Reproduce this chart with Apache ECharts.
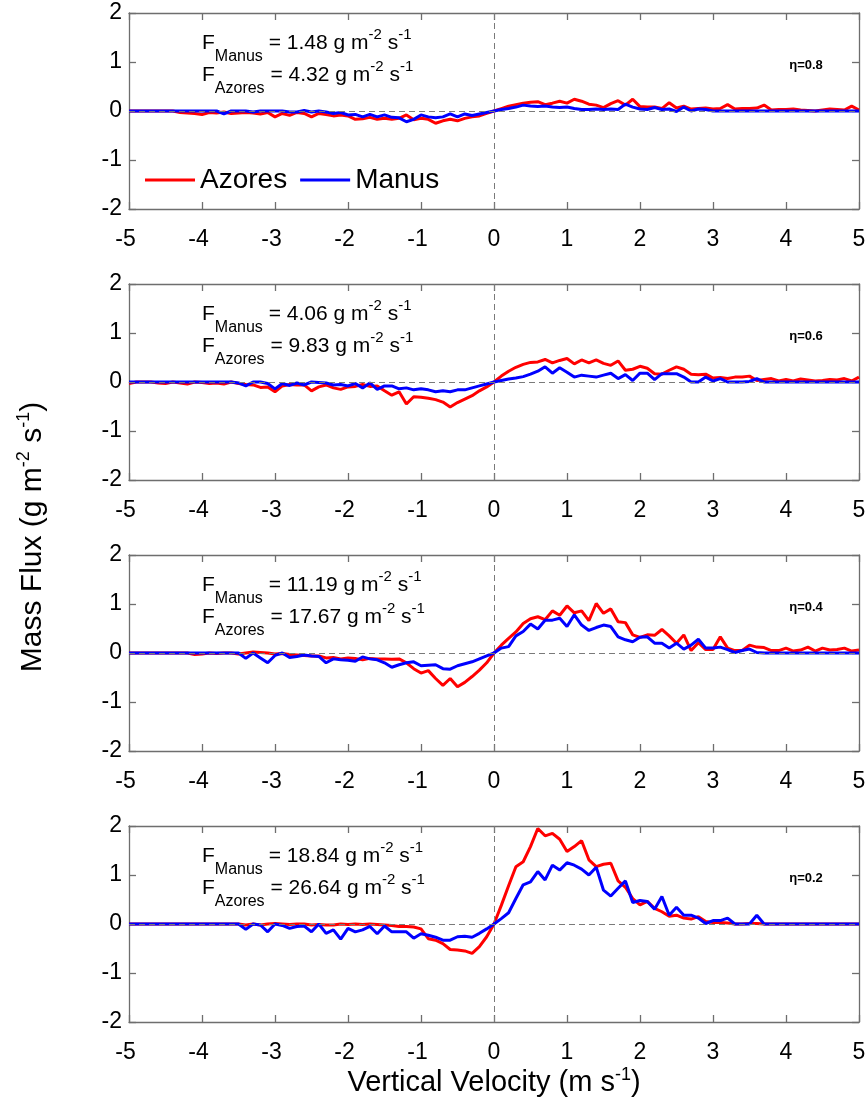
<!DOCTYPE html>
<html>
<head>
<meta charset="utf-8">
<script src="https://cdn.jsdelivr.net/npm/echarts@6/dist/echarts.min.js"></script>
<style>
html,body{margin:0;padding:0;background:#fff;}
#chart{width:868px;height:1107px;}
</style>
</head>
<body>
<div id="chart"></div>
<script>
// ---------------- DATA ----------------
const VELOCITY = [
  -5.0,-4.9,-4.8,-4.7,-4.6,-4.5,-4.4,-4.3,-4.2,-4.1,
  -4.0,-3.9,-3.8,-3.7,-3.6,-3.5,-3.4,-3.3,-3.2,-3.1,
  -3.0,-2.9,-2.8,-2.7,-2.6,-2.5,-2.4,-2.3,-2.2,-2.1,
  -2.0,-1.9,-1.8,-1.7,-1.6,-1.5,-1.4,-1.3,-1.2,-1.1,
  -1.0,-0.9,-0.8,-0.7,-0.6,-0.5,-0.4,-0.3,-0.2,-0.1,
   0.0, 0.1, 0.2, 0.3, 0.4, 0.5, 0.6, 0.7, 0.8, 0.9,
   1.0, 1.1, 1.2, 1.3, 1.4, 1.5, 1.6, 1.7, 1.8, 1.9,
   2.0, 2.1, 2.2, 2.3, 2.4, 2.5, 2.6, 2.7, 2.8, 2.9,
   3.0, 3.1, 3.2, 3.3, 3.4, 3.5, 3.6, 3.7, 3.8, 3.9,
   4.0, 4.1, 4.2, 4.3, 4.4, 4.5, 4.6, 4.7, 4.8, 4.9,
   5.0
];

// eta = 0.8
const AZORES_08 = [
  0, 0, 0, 0, 0, 0, 0, -0.03, -0.04, -0.05,
  -0.07, -0.03, -0.04, -0.02, -0.05, -0.04, -0.03, -0.04, -0.06, -0.03,
  -0.12, -0.05, -0.09, -0.03, -0.05, -0.12, -0.05, -0.07, -0.1, -0.08,
  -0.1, -0.17, -0.16, -0.13, -0.17, -0.15, -0.17, -0.15, -0.08, -0.18,
  -0.15, -0.17, -0.25, -0.2, -0.17, -0.2, -0.15, -0.12, -0.1, -0.05,
  0, 0.05, 0.1, 0.13, 0.16, 0.18, 0.19, 0.13, 0.16, 0.2,
  0.16, 0.24, 0.2, 0.14, 0.12, 0.07, 0.15, 0.21, 0.12, 0.24,
  0.09, 0.08, 0.08, 0.05, 0.17, 0.06, 0.1, 0.04, 0.05, 0.06,
  0.04, 0.05, 0.13, 0.04, 0.05, 0.05, 0.06, 0.12, 0.02, 0.03,
  0.03, 0.04, 0.02, 0.01, 0, 0.02, 0.04, 0.03, 0.02, 0.1,
  0.02
];
const MANUS_08 = [
  0, 0, 0, 0, 0, 0, 0, 0, 0, 0,
  0, 0, 0, -0.06, 0, 0, 0, -0.02, 0, 0,
  0, 0, -0.02, -0.02, 0.01, -0.02, 0, -0.02, -0.05, -0.03,
  -0.08, -0.07, -0.12, -0.07, -0.12, -0.08, -0.13, -0.14, -0.22, -0.17,
  -0.08, -0.12, -0.14, -0.12, -0.06, -0.12, -0.06, -0.09, -0.06, -0.03,
  0, 0.03, 0.05, 0.08, 0.12, 0.1, 0.09, 0.1, 0.08, 0.07,
  0.08, 0.05, 0.03, 0.03, 0.04, 0.03, 0.04, 0.03, 0.14, 0.08,
  0.04, 0.03, 0.07, 0.03, 0.04, -0.01, 0.08, 0, 0.04, 0.03,
  0, 0, 0, 0, 0, 0, 0, 0, 0, 0,
  0, 0, 0, 0, 0, 0, 0, 0, 0, 0,
  0
];

// eta = 0.6
const AZORES_06 = [
  -0.03, 0, 0, 0, -0.02, -0.03, 0, -0.02, -0.04, 0,
  -0.01, -0.03, -0.02, -0.04, 0, -0.03, -0.05, -0.06, -0.11, -0.1,
  -0.2, -0.08, -0.05, -0.06, -0.06, -0.18, -0.1, -0.06, -0.12, -0.15,
  -0.1, -0.09, -0.05, -0.09, -0.08, -0.18, -0.27, -0.2, -0.45, -0.3,
  -0.31, -0.33, -0.36, -0.41, -0.51, -0.42, -0.35, -0.28, -0.18, -0.1,
  0, 0.12, 0.22, 0.3, 0.36, 0.4, 0.41, 0.46, 0.39, 0.44,
  0.48, 0.37, 0.45, 0.39, 0.45, 0.38, 0.34, 0.43, 0.24, 0.26,
  0.32, 0.28, 0.17, 0.16, 0.24, 0.31, 0.26, 0.16, 0.15, 0.16,
  0.08, 0.09, 0.07, 0.1, 0.1, 0.12, 0.03, 0.05, 0.07, 0.02,
  0.05, 0.02, 0.06, 0.04, 0.02, 0.03, 0.05, 0.04, 0.07, 0.02,
  0.1
];
const MANUS_06 = [
  0, 0, 0, 0, 0, 0, 0, 0, 0, 0,
  0, 0, 0, 0, 0, -0.02, -0.08, 0, 0, -0.03,
  -0.14, -0.03, -0.07, -0.02, -0.06, 0, -0.01, -0.02, -0.06, -0.05,
  -0.08, -0.03, -0.12, -0.02, -0.15, -0.08, -0.08, -0.14, -0.12, -0.16,
  -0.14, -0.16, -0.2, -0.18, -0.2, -0.16, -0.16, -0.12, -0.08, -0.04,
  0, 0.03, 0.06, 0.08, 0.11, 0.16, 0.22, 0.31, 0.18, 0.29,
  0.2, 0.1, 0.14, 0.12, 0.1, 0.14, 0.18, 0.07, 0.15, 0.03,
  0.18, 0.18, 0.05, 0.17, 0.17, 0.17, 0.1, 0, 0, 0.1,
  0.02, 0.07, 0, 0, 0, 0.01, 0.07, 0, 0, 0,
  0, 0, 0, 0, 0, 0, 0, 0, 0, 0,
  0
];

// eta = 0.4
const AZORES_04 = [
  0, 0, 0, 0, 0, 0, 0, 0, 0, -0.03,
  -0.02, 0, -0.01, 0, 0, -0.02, 0, 0.02, 0.01, 0,
  -0.02, -0.01, -0.03, -0.04, -0.05, -0.06, -0.06, -0.1, -0.09, -0.12,
  -0.1, -0.11, -0.14, -0.11, -0.12, -0.12, -0.13, -0.12, -0.2, -0.32,
  -0.41, -0.36, -0.52, -0.66, -0.52, -0.69, -0.6, -0.48, -0.35, -0.2,
  0, 0.16, 0.3, 0.43, 0.6, 0.7, 0.74, 0.68, 0.86, 0.77,
  0.96, 0.82, 0.86, 0.66, 1.01, 0.81, 0.9, 0.64, 0.62, 0.37,
  0.32, 0.37, 0.36, 0.48, 0.35, 0.2, 0.37, 0.05, 0.21, 0.07,
  0.07, 0.33, 0.1, 0.05, 0.05, 0.16, 0.12, 0.11, 0.05, 0.05,
  0.1, 0.04, 0.06, 0.12, 0.04, 0.1, 0.06, 0.07, 0.1, 0.04,
  0.06
];
const MANUS_04 = [
  0, 0, 0, 0, 0, 0, 0, 0, 0, 0,
  0, 0, 0, 0, 0, 0, -0.11, 0, -0.1, -0.2,
  -0.05, 0, -0.09, -0.07, -0.04, -0.06, -0.07, -0.2, -0.12, -0.14,
  -0.15, -0.17, -0.08, -0.12, -0.14, -0.2, -0.29, -0.24, -0.2, -0.18,
  -0.26, -0.25, -0.24, -0.32, -0.33, -0.26, -0.22, -0.18, -0.12, -0.06,
  0, 0.1, 0.13, 0.35, 0.44, 0.59, 0.49, 0.67, 0.67, 0.71,
  0.54, 0.78, 0.57, 0.46, 0.52, 0.57, 0.54, 0.33, 0.27, 0.23,
  0.32, 0.33, 0.2, 0.2, 0.1, 0.2, 0.08, 0.16, 0.28, 0.1,
  0.1, 0.12, 0.07, 0.01, 0.05, 0.08, 0.01, 0, 0, 0,
  0, 0, 0, 0, 0, 0, 0, 0, 0, 0,
  0
];

// eta = 0.2
const AZORES_02 = [
  0, 0, 0, 0, 0, 0, 0, 0, 0, 0,
  0, 0, 0, 0, 0, 0, -0.02, 0, -0.02, 0,
  0.01, 0, -0.01, 0, 0, -0.02, -0.01, -0.02, -0.02, 0,
  -0.01, 0, -0.01, 0, -0.01, -0.02, -0.03, -0.05, -0.05, -0.06,
  -0.1, -0.3, -0.33, -0.4, -0.52, -0.53, -0.55, -0.6, -0.46, -0.26,
  0, 0.38, 0.78, 1.17, 1.27, 1.58, 1.95, 1.8, 1.85, 1.73,
  1.48, 1.58, 1.7, 1.31, 1.17, 1.22, 1.24, 0.88, 0.75, 0.52,
  0.39, 0.46, 0.32, 0.25, 0.16, 0.18, 0.12, 0.1, 0.15, 0.05,
  0.03, 0.03, 0.02, 0, 0, 0.01, 0.01, 0, 0, 0,
  0, 0, 0, 0, 0, 0, 0, 0, 0, 0,
  0
];
const MANUS_02 = [
  0, 0, 0, 0, 0, 0, 0, 0, 0, 0,
  0, 0, 0, 0, 0, 0, -0.11, 0, -0.02, -0.16,
  0, -0.03, -0.09, -0.05, -0.04, -0.16, 0, -0.19, -0.12, -0.31,
  -0.09, -0.16, -0.12, -0.05, -0.2, -0.04, -0.16, -0.16, -0.16, -0.29,
  -0.2, -0.23, -0.27, -0.33, -0.33, -0.26, -0.25, -0.27, -0.19, -0.1,
  0, 0.11, 0.23, 0.52, 0.8, 0.86, 1.07, 0.9, 1.2, 1.1,
  1.25, 1.2, 1.12, 1.0, 1.16, 0.69, 0.57, 0.73, 0.88, 0.44,
  0.48, 0.46, 0.3, 0.56, 0.18, 0.34, 0.18, 0.18, 0.12, 0.01,
  0.07, 0.07, 0.12, 0, 0, 0, 0.18, 0, 0, 0,
  0, 0, 0, 0, 0, 0, 0, 0, 0, 0,
  0
];

const SERIES_NAMES = ['Azores', 'Manus'];
const ETA_LABELS = ['η=0.8', 'η=0.6', 'η=0.4', 'η=0.2'];
const FLUX_MANUS = ['1.48', '4.06', '11.19', '18.84'];
const FLUX_AZORES = ['4.32', '9.83', '17.67', '26.64'];
const X_MIN = -5, X_MAX = 5, X_STEP = 1;
const Y_MIN = -2, Y_MAX = 2, Y_STEP = 1;
const X_TITLE = ['Vertical Velocity (m s', '-1', ')'];
const Y_TITLE = ['Mass Flux (g m', '-2', ' s', '-1', ')'];

// ---------------- LAYOUT / STYLE ----------------
const FONT = '"Liberation Sans", Arial, Helvetica, sans-serif';
const AXIS_COLOR = '#6e6e6e';
const RED = '#ff0000', BLUE = '#0000ff';
const GRID_LEFT = 129, GRID_WIDTH = 730, GRID_HEIGHT = 196;
const GRID_TOPS = [13, 284, 555, 826];
const TICK_FONT = 23;

const PANELS = [
  {azores: AZORES_08, manus: MANUS_08},
  {azores: AZORES_06, manus: MANUS_06},
  {azores: AZORES_04, manus: MANUS_04},
  {azores: AZORES_02, manus: MANUS_02}
];

const RICH_FLUX = {
  m: {fontSize: 21, fontFamily: FONT, lineHeight: 40, fill: '#000'},
  s: {fontSize: 16, fontFamily: FONT, height: 13, verticalAlign: 'bottom', fill: '#000'},
  p: {fontSize: 15, fontFamily: FONT, height: 24, verticalAlign: 'top', fill: '#000'}
};
const RICH_XTITLE = {
  m: {fontSize: 29, fontFamily: FONT, lineHeight: 44, fill: '#000'},
  p: {fontSize: 18, fontFamily: FONT, height: 28, verticalAlign: 'top', fill: '#000'}
};
const RICH_YTITLE = {
  m: {fontSize: 30, fontFamily: FONT, lineHeight: 46, fill: '#000'},
  p: {fontSize: 18, fontFamily: FONT, height: 29, verticalAlign: 'top', fill: '#000'}
};

function fluxText(x, top, site, value) {
  return {
    type: 'text', x: x, y: top, silent: true, z: 100,
    style: {
      text: '{m|F}{s|' + site + '}{m| = ' + value + ' g m}{p|-2}{m| s}{p|-1}',
      rich: RICH_FLUX,
      font: '21px ' + FONT,
      fill: '#000',
      align: 'left', verticalAlign: 'top',
      textAlign: 'left', textVerticalAlign: 'top'
    }
  };
}

const grids = [], xAxes = [], yAxes = [], series = [], graphics = [];

PANELS.forEach(function (p, g) {
  const top = GRID_TOPS[g];
  grids.push({left: GRID_LEFT, top: top, width: GRID_WIDTH, height: GRID_HEIGHT,
              containLabel: false, outerBoundsMode: 'none'});
  const axisLine = {show: true, onZero: false, lineStyle: {color: AXIS_COLOR, width: 1.3}};
  const axisTick = {show: true, inside: true, length: 7, lineStyle: {color: AXIS_COLOR, width: 1.3}};
  xAxes.push({
    type: 'value', gridIndex: g, position: 'bottom', min: X_MIN, max: X_MAX, interval: X_STEP,
    axisLine: axisLine, axisTick: axisTick, splitLine: {show: false},
    axisLabel: {
      show: true, margin: 19, color: '#000', fontSize: TICK_FONT, fontFamily: FONT,
      formatter: function (v) { return v < 0 ? '{n|' + v + '}' : '{q|' + v + '}'; },
      rich: {
        n: {fontSize: TICK_FONT, fontFamily: FONT, color: '#000', padding: [0, 7, 0, 0]},
        q: {fontSize: TICK_FONT, fontFamily: FONT, color: '#000'}
      }
    }
  });
  xAxes.push({
    type: 'value', gridIndex: g, position: 'top', min: X_MIN, max: X_MAX, interval: X_STEP,
    axisLine: axisLine, axisTick: axisTick, splitLine: {show: false}, axisLabel: {show: false}
  });
  yAxes.push({
    type: 'value', gridIndex: g, position: 'left', min: Y_MIN, max: Y_MAX, interval: Y_STEP,
    axisLine: axisLine, axisTick: axisTick, splitLine: {show: false},
    axisLabel: {show: true, margin: 7, color: '#000', fontSize: TICK_FONT, fontFamily: FONT}
  });
  yAxes.push({
    type: 'value', gridIndex: g, position: 'right', min: Y_MIN, max: Y_MAX, interval: Y_STEP,
    axisLine: axisLine, axisTick: axisTick, splitLine: {show: false}, axisLabel: {show: false}
  });

  series.push({
    type: 'line', name: SERIES_NAMES[0], xAxisIndex: 2 * g, yAxisIndex: 2 * g,
    data: VELOCITY.map(function (v, i) { return [v, p.azores[i]]; }),
    symbol: 'none', showSymbol: false, silent: true, animation: false, z: 2,
    lineStyle: {color: RED, width: 3}, itemStyle: {color: RED}
  });
  series.push({
    type: 'line', name: SERIES_NAMES[1], xAxisIndex: 2 * g, yAxisIndex: 2 * g,
    data: VELOCITY.map(function (v, i) { return [v, p.manus[i]]; }),
    symbol: 'none', showSymbol: false, silent: true, animation: false, z: 3,
    lineStyle: {color: BLUE, width: 3}, itemStyle: {color: BLUE},
    markLine: {
      silent: true, symbol: 'none', animation: false,
      label: {show: false},
      lineStyle: {color: '#7a7a7a', type: [6, 4], width: 1},
      data: [{yAxis: 0}, {xAxis: 0}]
    }
  });

  graphics.push(fluxText(202, top + 10, 'Manus', FLUX_MANUS[g]));
  graphics.push(fluxText(202, top + 42, 'Azores', FLUX_AZORES[g]));
  graphics.push({
    type: 'text', x: 806, y: top + 52, silent: true, z: 100,
    style: {text: ETA_LABELS[g], font: 'bold 13px ' + FONT, fill: '#000',
            align: 'center', verticalAlign: 'middle', textAlign: 'center', textVerticalAlign: 'middle'}
  });
});

// axis titles
graphics.push({
  type: 'text', x: 494, y: 1061, silent: true, z: 100,
  style: {
    text: '{m|' + X_TITLE[0] + '}{p|' + X_TITLE[1] + '}{m|' + X_TITLE[2] + '}',
    rich: RICH_XTITLE, font: '29px ' + FONT, fill: '#000',
    align: 'center', verticalAlign: 'top', textAlign: 'center', textVerticalAlign: 'top'
  }
});
graphics.push({
  type: 'text', x: 33, y: 537, rotation: Math.PI / 2, silent: true, z: 100,
  style: {
    text: '{m|' + Y_TITLE[0] + '}{p|' + Y_TITLE[1] + '}{m|' + Y_TITLE[2] + '}{p|' + Y_TITLE[3] + '}{m|' + Y_TITLE[4] + '}',
    rich: RICH_YTITLE, font: '30px ' + FONT, fill: '#000',
    align: 'center', verticalAlign: 'middle', textAlign: 'center', textVerticalAlign: 'middle'
  }
});

const chart = echarts.init(document.getElementById('chart'), null, {renderer: 'canvas', width: 868, height: 1107});
chart.setOption({
  backgroundColor: '#ffffff',
  animation: false,
  grid: grids,
  xAxis: xAxes,
  yAxis: yAxes,
  legend: {
    show: true, data: SERIES_NAMES, left: 140, top: 161, orient: 'horizontal',
    icon: 'rect', itemWidth: 50, itemHeight: 3, itemGap: 13, padding: 5,
    selectedMode: false,
    textStyle: {fontSize: 28, fontFamily: FONT, color: '#000'}
  },
  series: series,
  graphic: graphics
});
</script>
</body>
</html>
